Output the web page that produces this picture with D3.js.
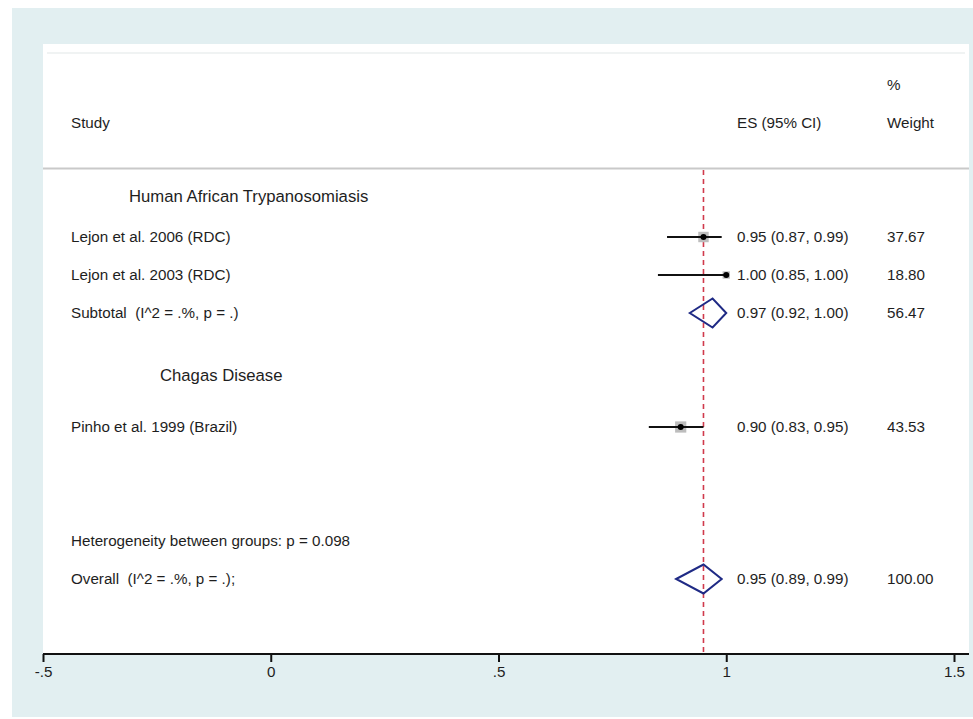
<!DOCTYPE html>
<html>
<head>
<meta charset="utf-8">
<script src="https://cdn.jsdelivr.net/npm/d3@7/dist/d3.min.js"></script>
<style>
  html, body { margin: 0; padding: 0; background: #ffffff; }
  svg { display: block; }
  text { font-family: "Liberation Sans", Arial, Helvetica, sans-serif; fill: #1e1e1e; white-space: pre; }
</style>
</head>
<body>
<svg id="chart" width="973" height="719"></svg>
<script>
// ---------- data ----------
const groups = ["Human African Trypanosomiasis", "Chagas Disease"];
const studies = ["Lejon et al. 2006 (RDC)", "Lejon et al. 2003 (RDC)", "Pinho et al. 1999 (Brazil)"];
const studyGroup = [0, 0, 1];
const studyES = [0.95, 1.00, 0.90];
const studyLo = [0.87, 0.85, 0.83];
const studyHi = [0.99, 1.00, 0.95];
const studyWeight = [37.67, 18.80, 43.53];
const studyText = ["0.95 (0.87, 0.99)", "1.00 (0.85, 1.00)", "0.90 (0.83, 0.95)"];
const weightText = ["37.67", "18.80", "43.53"];

const pooledLabels = ["Subtotal  (I^2 = .%, p = .)", "Overall  (I^2 = .%, p = .);"];
const pooledES = [0.97, 0.95];
const pooledLo = [0.92, 0.89];
const pooledHi = [1.00, 0.99];
const pooledText = ["0.97 (0.92, 1.00)", "0.95 (0.89, 0.99)"];
const pooledWeightText = ["56.47", "100.00"];

const heterogeneityText = "Heterogeneity between groups: p = 0.098";
const overallLine = 0.95;

const tickValues = [-0.5, 0, 0.5, 1, 1.5];
const tickLabels = ["-.5", "0", ".5", "1", "1.5"];

// ---------- layout ----------
const svg = d3.select("#chart");
const W = 973, H = 719;
const panel = { x0: 43, x1: 969, y0: 44, y1: 654 };

// backgrounds
svg.append("rect").attr("x", 0).attr("y", 0).attr("width", W).attr("height", H).attr("fill", "#ffffff");
svg.append("rect").attr("x", 12).attr("y", 8).attr("width", W - 12).attr("height", 709).attr("fill", "#e2eff1");
svg.append("rect").attr("x", panel.x0).attr("y", panel.y0)
  .attr("width", panel.x1 - panel.x0).attr("height", panel.y1 - panel.y0).attr("fill", "#ffffff");
svg.append("line").attr("x1", panel.x0 + 4).attr("x2", panel.x1 - 4).attr("y1", 53).attr("y2", 53)
  .attr("stroke", "#f0f3f3").attr("stroke-width", 2);

const x = d3.scaleLinear().domain([-0.5, 1.5]).range([43, 954]);
// row slots -> y
const y = d3.scaleLinear().domain([1, 10]).range([237, 579]);
const groupSlot = [-0.08, 4.63];
const studySlot = [1, 2, 6];
const pooledSlot = [3, 10];
const hetSlot = 9;

const labelX = 71, groupX = [129, 160], esX = 737, wX = 887;
const fs = 15.2, fsGroup = 16.7;

// header
svg.append("text").attr("x", labelX).attr("y", 123).attr("dy", "0.35em").attr("font-size", fs).text("Study");
svg.append("text").attr("x", esX).attr("y", 123).attr("dy", "0.35em").attr("font-size", fs).text("ES (95% CI)");
svg.append("text").attr("x", wX).attr("y", 123).attr("dy", "0.35em").attr("font-size", fs).text("Weight");
svg.append("text").attr("x", wX).attr("y", 85).attr("dy", "0.35em").attr("font-size", fs).text("%");
svg.append("line").attr("x1", panel.x0).attr("x2", panel.x1).attr("y1", 168.5).attr("y2", 168.5)
  .attr("stroke", "#c9c9c9").attr("stroke-width", 2);

// overall estimate dashed line
svg.append("line").attr("x1", x(overallLine)).attr("x2", x(overallLine))
  .attr("y1", 170).attr("y2", panel.y1)
  .attr("stroke", "#d03a4c").attr("stroke-width", 1.6).attr("stroke-dasharray", "5,4");

// group labels
svg.selectAll("text.group").data(groups).join("text").attr("class", "group")
  .attr("x", (d, i) => groupX[i]).attr("y", (d, i) => y(groupSlot[i])).attr("dy", "0.35em")
  .attr("font-size", fsGroup).text(d => d);

// studies
const st = studies.map((s, i) => ({ s, i }));
svg.selectAll("text.study").data(st).join("text").attr("class", "study")
  .attr("x", labelX).attr("y", d => y(studySlot[d.i])).attr("dy", "0.35em").attr("font-size", fs).text(d => d.s);
svg.selectAll("text.ses").data(st).join("text").attr("class", "ses")
  .attr("x", esX).attr("y", d => y(studySlot[d.i])).attr("dy", "0.35em").attr("font-size", fs).text(d => studyText[d.i]);
svg.selectAll("text.sw").data(st).join("text").attr("class", "sw")
  .attr("x", wX).attr("y", d => y(studySlot[d.i])).attr("dy", "0.35em").attr("font-size", fs).text(d => weightText[d.i]);

const side = w => 1.7 * Math.sqrt(w);
svg.selectAll("rect.box").data(st).join("rect").attr("class", "box")
  .attr("x", d => x(studyES[d.i]) - side(studyWeight[d.i]) / 2)
  .attr("y", d => y(studySlot[d.i]) - side(studyWeight[d.i]) / 2)
  .attr("width", d => side(studyWeight[d.i])).attr("height", d => side(studyWeight[d.i]))
  .attr("fill", "#bdbdbd");
svg.selectAll("line.ci").data(st).join("line").attr("class", "ci")
  .attr("x1", d => x(studyLo[d.i])).attr("x2", d => x(studyHi[d.i]))
  .attr("y1", d => y(studySlot[d.i])).attr("y2", d => y(studySlot[d.i]))
  .attr("stroke", "#111").attr("stroke-width", 2);
svg.selectAll("circle.pt").data(st).join("circle").attr("class", "pt")
  .attr("cx", d => x(studyES[d.i])).attr("cy", d => y(studySlot[d.i])).attr("r", 3)
  .attr("fill", "#000");

// pooled
const pl = pooledLabels.map((s, i) => ({ s, i }));
svg.selectAll("text.pl").data(pl).join("text").attr("class", "pl")
  .attr("x", labelX).attr("y", d => y(pooledSlot[d.i])).attr("dy", "0.35em").attr("font-size", fs).text(d => d.s);
svg.selectAll("text.pes").data(pl).join("text").attr("class", "pes")
  .attr("x", esX).attr("y", d => y(pooledSlot[d.i])).attr("dy", "0.35em").attr("font-size", fs).text(d => pooledText[d.i]);
svg.selectAll("text.pw").data(pl).join("text").attr("class", "pw")
  .attr("x", wX).attr("y", d => y(pooledSlot[d.i])).attr("dy", "0.35em").attr("font-size", fs).text(d => pooledWeightText[d.i]);
const dh = 14.5;
svg.selectAll("path.dia").data(pl).join("path").attr("class", "dia")
  .attr("d", d => {
    const yc = y(pooledSlot[d.i]);
    return `M${x(pooledLo[d.i])},${yc}L${x(pooledES[d.i])},${yc - dh}L${x(pooledHi[d.i])},${yc}L${x(pooledES[d.i])},${yc + dh}Z`;
  })
  .attr("fill", "none").attr("stroke", "#1f2a85").attr("stroke-width", 2).attr("stroke-linejoin", "miter");

svg.append("text").attr("x", labelX).attr("y", y(hetSlot)).attr("dy", "0.35em").attr("font-size", fs).text(heterogeneityText);

// axis
const axis = d3.axisBottom(x).tickValues(tickValues).tickFormat((d, i) => tickLabels[i]).tickSize(8).tickPadding(4);
const gAxis = svg.append("g").attr("transform", `translate(0,${panel.y1})`).call(axis);
gAxis.select(".domain").remove();
gAxis.selectAll(".tick line").attr("stroke", "#111").attr("stroke-width", 2);
gAxis.selectAll(".tick text").attr("font-size", fs).attr("fill", "#1e1e1e")
  .attr("font-family", "\"Liberation Sans\", Arial, sans-serif");
svg.append("line").attr("x1", panel.x0).attr("x2", panel.x1).attr("y1", panel.y1).attr("y2", panel.y1)
  .attr("stroke", "#111").attr("stroke-width", 2);
</script>
</body>
</html>
